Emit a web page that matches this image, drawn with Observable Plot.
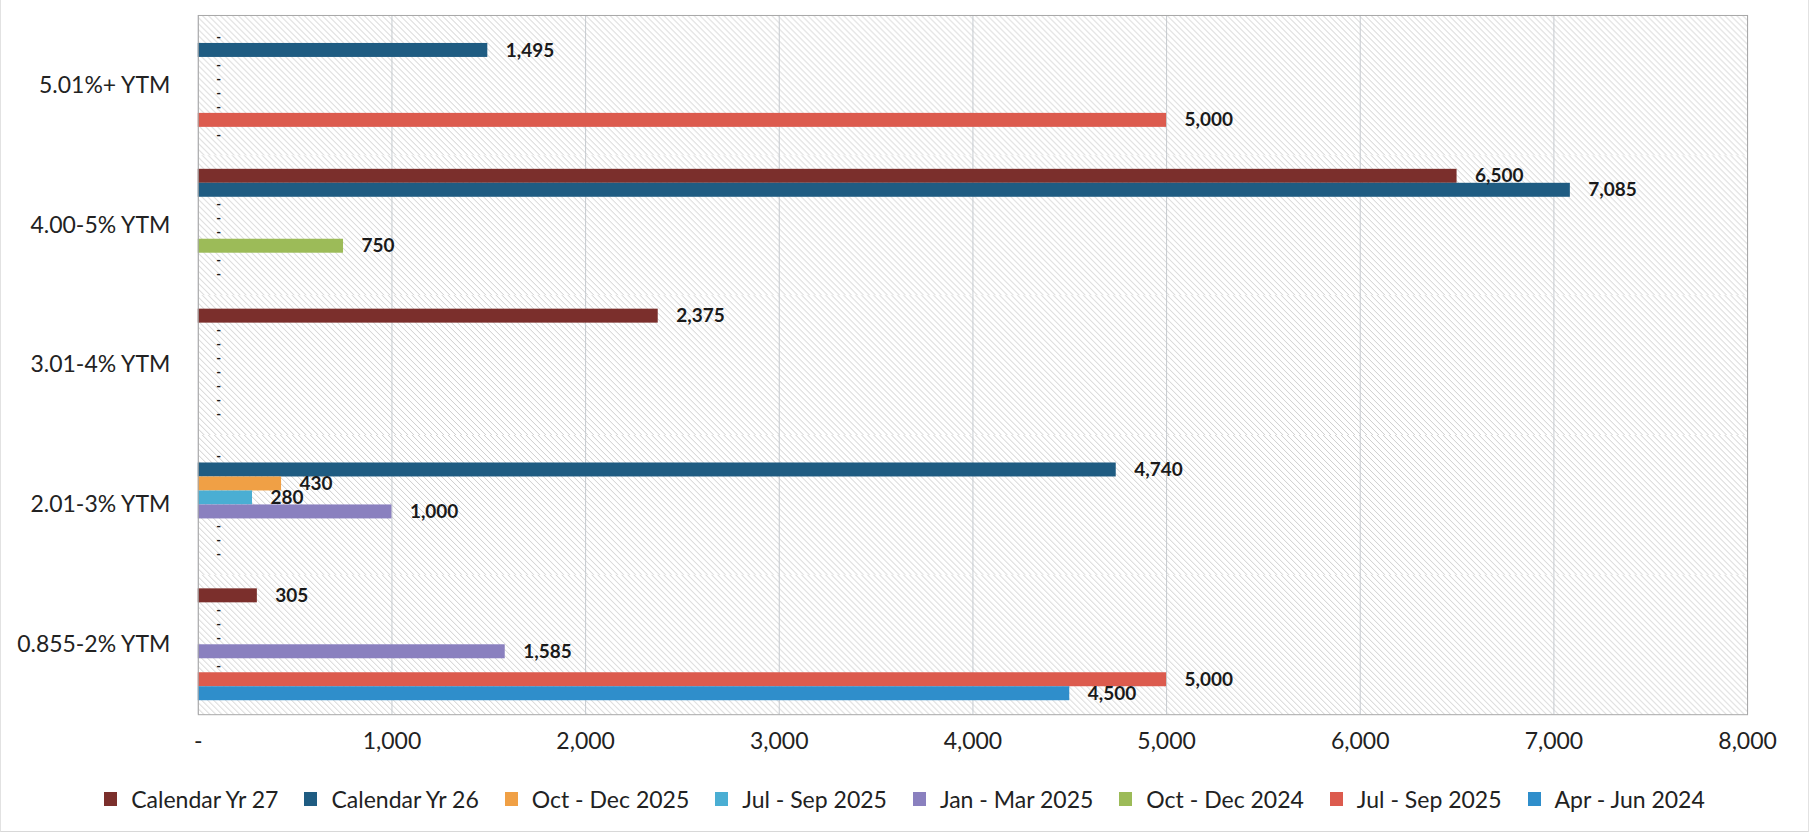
<!DOCTYPE html>
<html>
<head>
<meta charset="utf-8">
<script src="https://cdn.jsdelivr.net/npm/d3@7"></script>
<script src="https://cdn.jsdelivr.net/npm/@observablehq/plot@0.6"></script>
<style>
  html, body { margin: 0; padding: 0; background: #fff; }
  #chart { position: relative; width: 1809px; height: 832px; overflow: hidden; font-family: Lato, "Open Sans", sans-serif; box-sizing: border-box; border-left: 1px solid #e2e2e2; border-right: 1px solid #e2e2e2; border-bottom: 1px solid #d8d8d8; }
  #legend { display: flex; justify-content: center; align-items: center; height: 60px; font-size: 23px; color: #222; }
  .item { display: flex; align-items: center; margin: 0 13px; }
  .swatch { width: 13px; height: 14px; margin-right: 14px; }
</style>
</head>
<body>
<svg width="0" height="0" style="position:absolute">
  <defs>
    <pattern id="hatch" patternUnits="userSpaceOnUse" width="6" height="6">
      <path d="M0,0 L6,6 M-1,5 L1,7 M5,-1 L7,1" stroke="#c8c8c8" stroke-width="0.9" />
    </pattern>
  </defs>
</svg>
<div id="chart"></div>
<script>
// Categories (top to bottom)
const categories = ["5.01%+ YTM", "4.00-5% YTM", "3.01-4% YTM", "2.01-3% YTM", "0.855-2% YTM"];

// Series (order within each group, top to bottom)
const seriesNames = ["Calendar Yr 27", "Calendar Yr 26", "Oct - Dec 2025", "Jul - Sep 2025", "Jan - Mar 2025", "Oct - Dec 2024", "Jul - Sep 2025", "Apr - Jun 2024"];
const seriesColors = ["#7b2f2c", "#1f5c82", "#f0a045", "#4aaed3", "#8a80bf", "#9cbb58", "#dc5b4e", "#2f8ecb"];

// Values per series, one per category
const calendarYr27 = [0, 6500, 2375, 0, 305];
const calendarYr26 = [1495, 7085, 0, 4740, 0];
const octDec2025   = [0, 0, 0, 430, 0];
const julSep2025   = [0, 0, 0, 280, 0];
const janMar2025   = [0, 0, 0, 1000, 1585];
const octDec2024   = [0, 750, 0, 0, 0];
const julSep2025b  = [5000, 0, 0, 0, 5000];
const aprJun2024   = [0, 0, 0, 0, 4500];
const seriesValues = [calendarYr27, calendarYr26, octDec2025, julSep2025, janMar2025, octDec2024, julSep2025b, aprJun2024];

// X axis ticks
const xTicks = [0, 1000, 2000, 3000, 4000, 5000, 6000, 7000, 8000];

const seriesKeys = seriesNames.map((_, i) => "s" + i);
const rows = [];
categories.forEach((c, ci) => {
  seriesValues.forEach((vals, si) => {
    rows.push({category: c, key: seriesKeys[si], name: seriesNames[si], value: vals[ci]});
  });
});

const fmt = d3.format(",");

const plot = Plot.plot({
  width: 1809,
  height: 770,
  marginLeft: 197,
  marginRight: 61,
  marginTop: 15,
  marginBottom: 55,
  style: {fontFamily: "Lato, 'Open Sans', sans-serif", fontSize: "23px", color: "#222", background: "transparent", overflow: "visible"},
  x: {domain: [0, 8000], ticks: xTicks, tickFormat: d => d === 0 ? "-" : fmt(d), tickSize: 0, tickPadding: 18, label: null},
  fy: {domain: categories, padding: 0, label: null, tickSize: 0, tickPadding: 28},
  y: {domain: seriesKeys, axis: null, paddingInner: 0, paddingOuter: 1},
  color: {domain: seriesKeys, range: seriesColors},
  marks: [
    Plot.frame({fill: "url(#hatch)", stroke: null}),
    Plot.gridX(xTicks, {stroke: "#c6cacf", strokeOpacity: 1, strokeWidth: 1}),
    Plot.barX(rows.filter(d => d.value > 0), {x: "value", y: "key", fy: "category", fill: "key"}),
    Plot.text(rows.filter(d => d.value > 0), {x: "value", y: "key", fy: "category", text: d => fmt(d.value), textAnchor: "start", dx: 18, fontWeight: "bold", fontSize: 19, fill: "#1a1a1a"}),
    Plot.text(rows.filter(d => d.value === 0), {x: "value", y: "key", fy: "category", text: () => "-", textAnchor: "start", dx: 18, dy: 1, fontWeight: "bold", fontSize: 13, fill: "#1a1a1a"}),
    Plot.frame({stroke: "#a8a8a8", facet: "super"})
  ]
});

const chart = document.getElementById("chart");
chart.appendChild(plot);

const legend = document.createElement("div");
legend.id = "legend";
seriesNames.forEach((n, i) => {
  const item = document.createElement("div");
  item.className = "item";
  const sw = document.createElement("div");
  sw.className = "swatch";
  sw.style.background = seriesColors[i];
  const tx = document.createElement("span");
  tx.textContent = n;
  item.appendChild(sw);
  item.appendChild(tx);
  legend.appendChild(item);
});
chart.appendChild(legend);
</script>
</body>
</html>
